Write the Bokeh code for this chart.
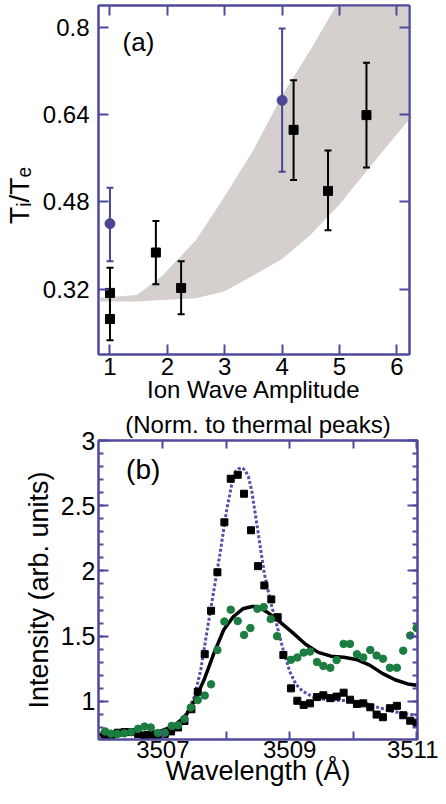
from bokeh.plotting import figure
from bokeh.models import (Range1d, LinearAxis, FixedTicker, SingleIntervalTicker,
                          NumeralTickFormatter, CustomJSTickFormatter, Label, Title)
from bokeh.layouts import column
from bokeh.embed import file_html
from bokeh.resources import INLINE

FONT = "Liberation Sans"
AX = "#4f4a9c"
BLUE = "#4b4596"
GREEN = "#1b7d3f"
GRAY = "#d5d0ce"

# ---------------- panel (a) data ----------------
amp_ticks = [1, 2, 3, 4, 5, 6]
ratio_ticks = [0.32, 0.48, 0.64, 0.8]

band_x = [0.8, 1.47, 1.9, 2.5, 3.0, 3.5, 4.0, 4.5, 5.0, 5.5, 6.22]
band_lo = [0.297, 0.297, 0.300, 0.303, 0.316, 0.345, 0.375, 0.420, 0.475, 0.540, 0.632]
band_hi = [0.304, 0.309, 0.343, 0.410, 0.490, 0.575, 0.675, 0.760, 0.850, 0.940, 1.060]

sq_x = [1.0, 1.0, 1.8, 2.24, 4.2, 4.8, 5.47]
sq_y = [0.313, 0.265, 0.387, 0.322, 0.612, 0.500, 0.639]
sq_up = [0.046, 0.048, 0.058, 0.049, 0.091, 0.074, 0.096]
sq_dn = [0.048, 0.039, 0.058, 0.048, 0.092, 0.072, 0.096]

ci_x = [1.0, 4.0]
ci_y = [0.440, 0.666]
ci_up = [0.066, 0.132]
ci_dn = [0.069, 0.131]

# ---------------- panel (b) data ----------------
wl_major = [3507, 3509, 3511]
wl_minor = [3508, 3510]

wl_sq = [3506.08, 3506.19, 3506.29, 3506.40, 3506.50, 3506.61, 3506.71, 3506.82,
         3506.92, 3507.03, 3507.13, 3507.24, 3507.34, 3507.45, 3507.55, 3507.66,
         3507.76, 3507.86, 3507.97, 3508.07, 3508.18, 3508.28, 3508.39, 3508.50,
         3508.60, 3508.71, 3508.81, 3508.90, 3509.02, 3509.12, 3509.22, 3509.32,
         3509.43, 3509.53, 3509.64, 3509.74, 3509.85, 3509.95, 3510.06, 3510.16,
         3510.27, 3510.37, 3510.47, 3510.58, 3510.69, 3510.79, 3510.90, 3511.00]
int_sq = [0.745, 0.745, 0.760, 0.765, 0.765, 0.750, 0.735, 0.745,
          0.745, 0.750, 0.770, 0.800, 0.850, 0.940, 1.074, 1.362,
          1.695, 1.990, 2.373, 2.707, 2.737, 2.592, 2.312, 2.037,
          1.889, 1.782, 1.646, 1.356, 1.100, 1.005, 0.973, 0.985,
          1.033, 1.047, 1.025, 1.037, 1.067, 1.013, 0.981, 0.985,
          0.955, 0.899, 0.879, 0.948, 0.966, 0.894, 0.852, 0.837]

wl_gr = [3506.09, 3506.18, 3506.28, 3506.39, 3506.50, 3506.61, 3506.71, 3506.81,
         3506.92, 3507.03, 3507.14, 3507.24, 3507.34, 3507.44, 3507.55, 3507.66,
         3507.76, 3507.86, 3507.97, 3508.07, 3508.18, 3508.28, 3508.38, 3508.49,
         3508.59, 3508.70, 3508.80, 3509.02, 3509.12, 3509.22, 3509.32, 3509.43,
         3509.53, 3509.64, 3509.74, 3509.85, 3509.95, 3510.06, 3510.16, 3510.27,
         3510.37, 3510.47, 3510.58, 3510.69, 3510.79, 3510.90, 3511.00]
int_gr = [0.770, 0.753, 0.750, 0.755, 0.765, 0.790, 0.807, 0.800,
          0.758, 0.760, 0.812, 0.817, 0.866, 0.953, 1.010, 1.045,
          1.131, 1.394, 1.612, 1.703, 1.616, 1.510, 1.562, 1.710,
          1.723, 1.631, 1.500, 1.319, 1.337, 1.374, 1.382, 1.302,
          1.272, 1.258, 1.317, 1.441, 1.441, 1.362, 1.337, 1.394,
          1.352, 1.327, 1.258, 1.258, 1.389, 1.505, 1.562]

wl_fit1 = [3506.0, 3506.3, 3506.6, 3506.8, 3507.0, 3507.2, 3507.3, 3507.4, 3507.5,
           3507.6, 3507.7, 3507.8, 3507.9, 3508.0, 3508.1, 3508.15, 3508.2, 3508.25,
           3508.3, 3508.35, 3508.4, 3508.5, 3508.6, 3508.7, 3508.8, 3508.9, 3509.0,
           3509.1, 3509.2, 3509.4, 3509.6, 3509.8, 3510.0, 3510.2, 3510.4, 3510.6,
           3510.8, 3511.0]
int_fit1 = [0.745, 0.748, 0.752, 0.758, 0.770, 0.810, 0.860, 0.930, 1.040,
            1.250, 1.550, 1.840, 2.130, 2.450, 2.700, 2.765, 2.785, 2.790,
            2.770, 2.720, 2.620, 2.300, 1.980, 1.760, 1.580, 1.390, 1.230,
            1.130, 1.080, 1.025, 1.012, 1.008, 1.003, 0.985, 0.952, 0.927,
            0.907, 0.894]

wl_fit2 = [3506.0, 3506.4, 3506.7, 3506.95, 3507.15, 3507.35, 3507.5, 3507.66,
           3507.81, 3507.96, 3508.11, 3508.26, 3508.41, 3508.5, 3508.64, 3508.84,
           3509.05, 3509.25, 3509.45, 3509.65, 3509.85, 3510.05, 3510.26, 3510.46,
           3510.66, 3510.86, 3511.0]
int_fit2 = [0.745, 0.750, 0.758, 0.770, 0.807, 0.881, 1.005, 1.178,
            1.376, 1.549, 1.649, 1.710, 1.728, 1.726, 1.686, 1.612,
            1.525, 1.438, 1.376, 1.347, 1.339, 1.322, 1.278, 1.215,
            1.166, 1.134, 1.124]


def style_axis(ax, ticker, formatter, size, standoff):
    ax.ticker = ticker
    ax.formatter = formatter
    ax.axis_line_color = AX
    ax.axis_line_width = 2
    ax.major_tick_line_color = AX
    ax.major_tick_line_width = 2
    ax.major_tick_in = 10
    ax.major_tick_out = 0
    ax.minor_tick_line_color = AX
    ax.minor_tick_line_width = 2
    ax.minor_tick_in = 5
    ax.minor_tick_out = 0
    ax.major_label_text_font = FONT
    ax.major_label_text_font_size = size
    ax.major_label_text_color = "black"
    ax.major_label_standoff = standoff
    ax.axis_label_text_font = FONT
    ax.axis_label_text_font_style = "normal"
    ax.axis_label_text_color = "black"


blank = CustomJSTickFormatter(code="return '';")

# ================= panel (a) =================
p1 = figure(width=430, height=405, x_range=Range1d(0.8, 6.22), y_range=Range1d(0.2, 0.84),
            output_backend="svg", toolbar_location=None,
            min_border_left=92, min_border_right=15, min_border_top=5, min_border_bottom=0)
p1.grid.visible = False
p1.outline_line_color = AX
p1.outline_line_width = 2
p1.outline_line_alpha = 1.0

xa = p1.xaxis[0]
style_axis(xa, FixedTicker(ticks=amp_ticks), NumeralTickFormatter(format="0"), "24px", 3)
xa.axis_label = "Ion Wave Amplitude"
xa.axis_label_text_font_size = "24px"
xa.axis_label_standoff = -2
ya = p1.yaxis[0]
style_axis(ya, FixedTicker(ticks=ratio_ticks), NumeralTickFormatter(format="0.[00]"), "24px", 9)
ya.axis_label = "Tᵢ/Tₑ\u00a0\u00a0\u00a0\u00a0"
ya.axis_label_text_font_size = "28px"
ya.axis_label_standoff = 5

ta = LinearAxis()
style_axis(ta, FixedTicker(ticks=amp_ticks), blank, "1px", 0)
p1.add_layout(ta, "above")
ra = LinearAxis()
style_axis(ra, FixedTicker(ticks=ratio_ticks), blank, "1px", 0)
p1.add_layout(ra, "right")

p1.varea(x=band_x, y1=band_lo, y2=band_hi, fill_color=GRAY, fill_alpha=1.0)

ci_top = [y + u for y, u in zip(ci_y, ci_up)]
ci_bot = [y - d for y, d in zip(ci_y, ci_dn)]
p1.segment(x0=ci_x, y0=ci_bot, x1=ci_x, y1=ci_top, line_color=BLUE, line_width=2)
p1.scatter(ci_x + ci_x, ci_top + ci_bot, marker="dash", size=7, line_color=BLUE, line_width=2)
p1.scatter(ci_x, ci_y, marker="circle", size=10, fill_color=BLUE, line_color=BLUE)

sq_top = [y + u for y, u in zip(sq_y, sq_up)]
sq_bot = [y - d for y, d in zip(sq_y, sq_dn)]
p1.segment(x0=sq_x, y0=sq_bot, x1=sq_x, y1=sq_top, line_color="black", line_width=2)
p1.scatter(sq_x + sq_x, sq_top + sq_bot, marker="dash", size=7, line_color="black", line_width=2)
p1.scatter(sq_x, sq_y, marker="square", size=9, fill_color="black", line_color="black")

p1.add_layout(Label(x=1.22, y=0.80, text="(a)", text_font=FONT, text_font_size="26px",
                    text_baseline="top", text_align="left", text_color="black"))

# ================= panel (b) =================
p2 = figure(width=438, height=383, x_range=Range1d(3505.985, 3511.015), y_range=Range1d(0.708, 3.0),
            output_backend="svg", toolbar_location=None,
            min_border_left=85, min_border_right=21, min_border_top=0, min_border_bottom=0)
p2.grid.visible = False
p2.outline_line_color = AX
p2.outline_line_width = 2
p2.outline_line_alpha = 1.0

xb = p2.xaxis[0]
style_axis(xb, FixedTicker(ticks=wl_major, minor_ticks=wl_minor), NumeralTickFormatter(format="0"), "24px", 1)
xb.major_tick_in = 8
xb.minor_tick_in = 8
xb.axis_label = "Wavelength (Å)"
xb.axis_label_text_font_size = "27px"
xb.axis_label_standoff = -5
yb = p2.yaxis[0]
style_axis(yb, SingleIntervalTicker(interval=0.5, num_minor_ticks=5), NumeralTickFormatter(format="0.[0]"), "25px", 3)
yb.axis_label = "Intensity (arb. units)"
yb.axis_label_text_font_size = "27px"
yb.axis_label_standoff = 4

tb = LinearAxis()
style_axis(tb, FixedTicker(ticks=wl_major, minor_ticks=wl_minor), blank, "1px", 0)
tb.major_tick_in = 8
tb.minor_tick_in = 8
p2.add_layout(tb, "above")
rb = LinearAxis()
style_axis(rb, SingleIntervalTicker(interval=0.5, num_minor_ticks=5), blank, "1px", 0)
p2.add_layout(rb, "right")

# second line of panel (a)'s x-axis title, placed just above panel (b)
p2.add_layout(Title(text="(Norm. to thermal peaks)", align="center", text_font=FONT,
                    text_font_size="24px", text_font_style="normal", text_color="black",
                    standoff=6, offset=0), "above")

p2.line(wl_fit1, int_fit1, line_color="#5850aa", line_width=3, line_dash="3 2")
p2.line(wl_fit2, int_fit2, line_color="black", line_width=3.5)
p2.scatter(wl_sq, int_sq, marker="square", size=7, fill_color="black", line_color="black")
p2.scatter(wl_gr, int_gr, marker="circle", size=7.5, fill_color=GREEN, line_color=GREEN)

p2.add_layout(Label(x=3506.42, y=2.9, text="(b)", text_font=FONT, text_font_size="28px",
                    text_baseline="top", text_align="left", text_color="black"))

layout = column(p1, p2, spacing=0)
open("out.html", "w").write(file_html(layout, INLINE))
